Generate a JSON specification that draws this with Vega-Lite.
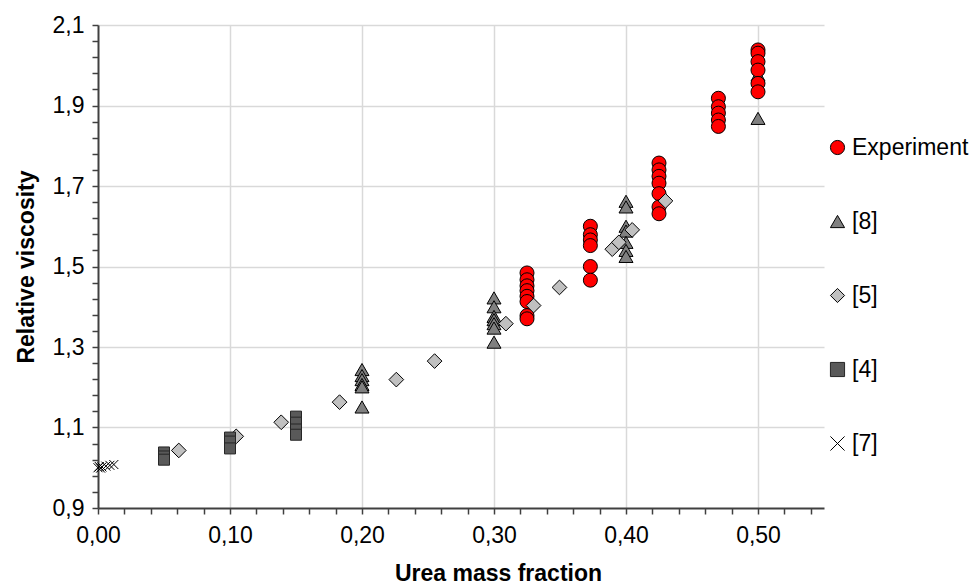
{
  "$schema": "https://vega.github.io/schema/vega-lite/v6.json",
  "width": 726,
  "height": 483,
  "autosize": "none",
  "padding": {"left": 98, "top": 25, "right": 149, "bottom": 78},
  "background": "white",
  "config": {
    "view": {"stroke": null},
    "font": "Liberation Sans",
    "axis": {"labelFont": "Liberation Sans", "titleFont": "Liberation Sans"},
    "legend": {
      "title": null,
      "orient": "none",
      "legendX": 728,
      "legendY": 111,
      "padding": 0,
      "rowPadding": 50,
      "labelFontSize": 23,
      "labelColor": "#000000",
      "labelFont": "Liberation Sans",
      "labelOffset": 3,
      "symbolSize": 200,
      "symbolStrokeWidth": 1,
      "symbolOpacity": 1
    }
  },
  "data": {
    "values": [
      {"series": "Experiment", "fraction": 0.325, "viscosity": 1.484},
      {"series": "Experiment", "fraction": 0.325, "viscosity": 1.467},
      {"series": "Experiment", "fraction": 0.325, "viscosity": 1.452},
      {"series": "Experiment", "fraction": 0.325, "viscosity": 1.440},
      {"series": "Experiment", "fraction": 0.325, "viscosity": 1.426},
      {"series": "Experiment", "fraction": 0.325, "viscosity": 1.413},
      {"series": "Experiment", "fraction": 0.325, "viscosity": 1.378},
      {"series": "Experiment", "fraction": 0.325, "viscosity": 1.370},
      {"series": "Experiment", "fraction": 0.373, "viscosity": 1.600},
      {"series": "Experiment", "fraction": 0.373, "viscosity": 1.579},
      {"series": "Experiment", "fraction": 0.373, "viscosity": 1.566},
      {"series": "Experiment", "fraction": 0.373, "viscosity": 1.552},
      {"series": "Experiment", "fraction": 0.373, "viscosity": 1.500},
      {"series": "Experiment", "fraction": 0.373, "viscosity": 1.466},
      {"series": "Experiment", "fraction": 0.425, "viscosity": 1.757},
      {"series": "Experiment", "fraction": 0.425, "viscosity": 1.740},
      {"series": "Experiment", "fraction": 0.425, "viscosity": 1.724},
      {"series": "Experiment", "fraction": 0.425, "viscosity": 1.707},
      {"series": "Experiment", "fraction": 0.425, "viscosity": 1.681},
      {"series": "Experiment", "fraction": 0.425, "viscosity": 1.648},
      {"series": "Experiment", "fraction": 0.425, "viscosity": 1.631},
      {"series": "Experiment", "fraction": 0.470, "viscosity": 1.918},
      {"series": "Experiment", "fraction": 0.470, "viscosity": 1.897},
      {"series": "Experiment", "fraction": 0.470, "viscosity": 1.881},
      {"series": "Experiment", "fraction": 0.470, "viscosity": 1.864},
      {"series": "Experiment", "fraction": 0.470, "viscosity": 1.848},
      {"series": "Experiment", "fraction": 0.500, "viscosity": 2.038},
      {"series": "Experiment", "fraction": 0.500, "viscosity": 2.030},
      {"series": "Experiment", "fraction": 0.500, "viscosity": 2.009},
      {"series": "Experiment", "fraction": 0.500, "viscosity": 1.988},
      {"series": "Experiment", "fraction": 0.500, "viscosity": 1.955},
      {"series": "Experiment", "fraction": 0.500, "viscosity": 1.934},
      {"series": "[8]", "fraction": 0.20, "viscosity": 1.244},
      {"series": "[8]", "fraction": 0.20, "viscosity": 1.229},
      {"series": "[8]", "fraction": 0.20, "viscosity": 1.219},
      {"series": "[8]", "fraction": 0.20, "viscosity": 1.207},
      {"series": "[8]", "fraction": 0.20, "viscosity": 1.201},
      {"series": "[8]", "fraction": 0.20, "viscosity": 1.151},
      {"series": "[8]", "fraction": 0.30, "viscosity": 1.422},
      {"series": "[8]", "fraction": 0.30, "viscosity": 1.400},
      {"series": "[8]", "fraction": 0.30, "viscosity": 1.376},
      {"series": "[8]", "fraction": 0.30, "viscosity": 1.368},
      {"series": "[8]", "fraction": 0.30, "viscosity": 1.358},
      {"series": "[8]", "fraction": 0.30, "viscosity": 1.347},
      {"series": "[8]", "fraction": 0.30, "viscosity": 1.312},
      {"series": "[8]", "fraction": 0.40, "viscosity": 1.662},
      {"series": "[8]", "fraction": 0.40, "viscosity": 1.648},
      {"series": "[8]", "fraction": 0.40, "viscosity": 1.600},
      {"series": "[8]", "fraction": 0.40, "viscosity": 1.588},
      {"series": "[8]", "fraction": 0.40, "viscosity": 1.560},
      {"series": "[8]", "fraction": 0.40, "viscosity": 1.540},
      {"series": "[8]", "fraction": 0.40, "viscosity": 1.525},
      {"series": "[8]", "fraction": 0.50, "viscosity": 1.976},
      {"series": "[8]", "fraction": 0.50, "viscosity": 1.868},
      {"series": "[5]", "fraction": 0.0612, "viscosity": 1.043},
      {"series": "[5]", "fraction": 0.1047, "viscosity": 1.078},
      {"series": "[5]", "fraction": 0.1388, "viscosity": 1.113},
      {"series": "[5]", "fraction": 0.183, "viscosity": 1.163},
      {"series": "[5]", "fraction": 0.226, "viscosity": 1.219},
      {"series": "[5]", "fraction": 0.255, "viscosity": 1.265},
      {"series": "[5]", "fraction": 0.309, "viscosity": 1.358},
      {"series": "[5]", "fraction": 0.330, "viscosity": 1.403},
      {"series": "[5]", "fraction": 0.3496, "viscosity": 1.448},
      {"series": "[5]", "fraction": 0.3896, "viscosity": 1.543},
      {"series": "[5]", "fraction": 0.3946, "viscosity": 1.560},
      {"series": "[5]", "fraction": 0.4047, "viscosity": 1.591},
      {"series": "[5]", "fraction": 0.4299, "viscosity": 1.663},
      {"series": "[4]", "fraction": 0.05, "viscosity": 1.038},
      {"series": "[4]", "fraction": 0.05, "viscosity": 1.028},
      {"series": "[4]", "fraction": 0.05, "viscosity": 1.020},
      {"series": "[4]", "fraction": 0.10, "viscosity": 1.075},
      {"series": "[4]", "fraction": 0.10, "viscosity": 1.065},
      {"series": "[4]", "fraction": 0.10, "viscosity": 1.048},
      {"series": "[4]", "fraction": 0.15, "viscosity": 1.127},
      {"series": "[4]", "fraction": 0.15, "viscosity": 1.112},
      {"series": "[4]", "fraction": 0.15, "viscosity": 1.095},
      {"series": "[4]", "fraction": 0.15, "viscosity": 1.082},
      {"series": "[7]", "fraction": 0.0, "viscosity": 1.000},
      {"series": "[7]", "fraction": 0.001, "viscosity": 1.003},
      {"series": "[7]", "fraction": 0.002, "viscosity": 0.999},
      {"series": "[7]", "fraction": 0.003, "viscosity": 1.002},
      {"series": "[7]", "fraction": 0.006, "viscosity": 1.004},
      {"series": "[7]", "fraction": 0.009, "viscosity": 1.006},
      {"series": "[7]", "fraction": 0.012, "viscosity": 1.008}
    ]
  },
  "encoding": {
    "x": {
      "field": "fraction",
      "type": "quantitative",
      "scale": {"domain": [0, 0.55], "nice": false, "zero": false},
      "axis": {
        "title": "Urea mass fraction",
        "titleFontSize": 23,
        "titleFontWeight": "bold",
        "titleColor": "#000000",
        "titleX": 400,
        "titleY": 72,
        "titleBaseline": "alphabetic",
        "values": [0, 0.02, 0.04, 0.06, 0.08, 0.1, 0.12, 0.14, 0.16, 0.18, 0.2, 0.22, 0.24, 0.26, 0.28, 0.3, 0.32, 0.34, 0.36, 0.38, 0.4, 0.42, 0.44, 0.46, 0.48, 0.5, 0.52, 0.54],
        "labelExpr": "abs(datum.value*10 - round(datum.value*10)) < 0.001 ? replace(format(datum.value, '.2f'), '.', ',') : ''",
        "labelFontSize": 23,
        "labelColor": "#000000",
        "labelPadding": 10,
        "labelOverlap": false,
        "labelFlush": false,
        "tickSize": 6,
        "tickColor": "#404040",
        "tickWidth": 1.5,
        "domainColor": "#404040",
        "domainWidth": 2,
        "grid": true,
        "gridColor": "#d9d9d9",
        "gridWidth": 1.5,
        "gridOpacity": {"condition": {"test": "abs(datum.value*10 - round(datum.value*10)) < 0.001 && datum.value > 0.001", "value": 1}, "value": 0}
      }
    },
    "y": {
      "field": "viscosity",
      "type": "quantitative",
      "scale": {"domain": [0.9, 2.1], "nice": false, "zero": false},
      "axis": {
        "title": "Relative viscosity",
        "titleFontSize": 23,
        "titleFontWeight": "bold",
        "titleColor": "#000000",
        "titlePadding": 14,
        "values": [0.9, 0.94, 0.98, 1.02, 1.06, 1.1, 1.14, 1.18, 1.22, 1.26, 1.3, 1.34, 1.38, 1.42, 1.46, 1.5, 1.54, 1.58, 1.62, 1.66, 1.7, 1.74, 1.78, 1.82, 1.86, 1.9, 1.94, 1.98, 2.02, 2.06, 2.1],
        "labelExpr": "abs((datum.value-0.9)*5 - round((datum.value-0.9)*5)) < 0.001 ? replace(format(datum.value, '.1f'), '.', ',') : ''",
        "labelFontSize": 23,
        "labelColor": "#000000",
        "labelPadding": 8,
        "labelOverlap": false,
        "labelFlush": false,
        "tickSize": 6,
        "tickColor": "#404040",
        "tickWidth": 1.5,
        "domainColor": "#404040",
        "domainWidth": 2,
        "grid": true,
        "gridColor": "#d9d9d9",
        "gridWidth": 1.5,
        "gridOpacity": {"condition": {"test": "abs((datum.value-0.9)*5 - round((datum.value-0.9)*5)) < 0.001 && datum.value > 0.91", "value": 1}, "value": 0}
      }
    },
    "fill": {
      "field": "series",
      "type": "nominal",
      "scale": {"domain": ["Experiment", "[8]", "[5]", "[4]", "[7]"], "range": ["#ff0000", "#808080", "#c0c0c0", "#595959", "#000000"]}
    },
    "stroke": {
      "field": "series",
      "type": "nominal",
      "scale": {"domain": ["Experiment", "[8]", "[5]", "[4]", "[7]"], "range": ["#000000", "#000000", "#000000", "#262626", "#000000"]}
    },
    "shape": {
      "field": "series",
      "type": "nominal",
      "scale": {"domain": ["Experiment", "[8]", "[5]", "[4]", "[7]"], "range": ["circle", "triangle-up", "diamond", "square", "M-1,-1L1,1M-1,1L1,-1"]}
    }
  },
  "layer": [
    {
      "transform": [{"filter": "datum.series == '[8]'"}],
      "mark": {"type": "point", "filled": true, "opacity": 1, "strokeWidth": 1, "size": 196}
    },
    {
      "transform": [{"filter": "datum.series == 'Experiment'"}],
      "mark": {"type": "point", "filled": true, "opacity": 1, "strokeWidth": 1, "size": 196}
    },
    {
      "transform": [{"filter": "datum.series == '[5]'"}],
      "mark": {"type": "point", "filled": true, "opacity": 1, "strokeWidth": 1, "size": 216}
    },
    {
      "transform": [{"filter": "datum.series == '[4]'"}],
      "mark": {"type": "point", "filled": true, "opacity": 1, "strokeWidth": 1, "size": 121}
    },
    {
      "transform": [{"filter": "datum.series == '[7]'"}],
      "mark": {"type": "point", "filled": true, "opacity": 1, "strokeWidth": 1, "size": 81}
    }
  ]
}
